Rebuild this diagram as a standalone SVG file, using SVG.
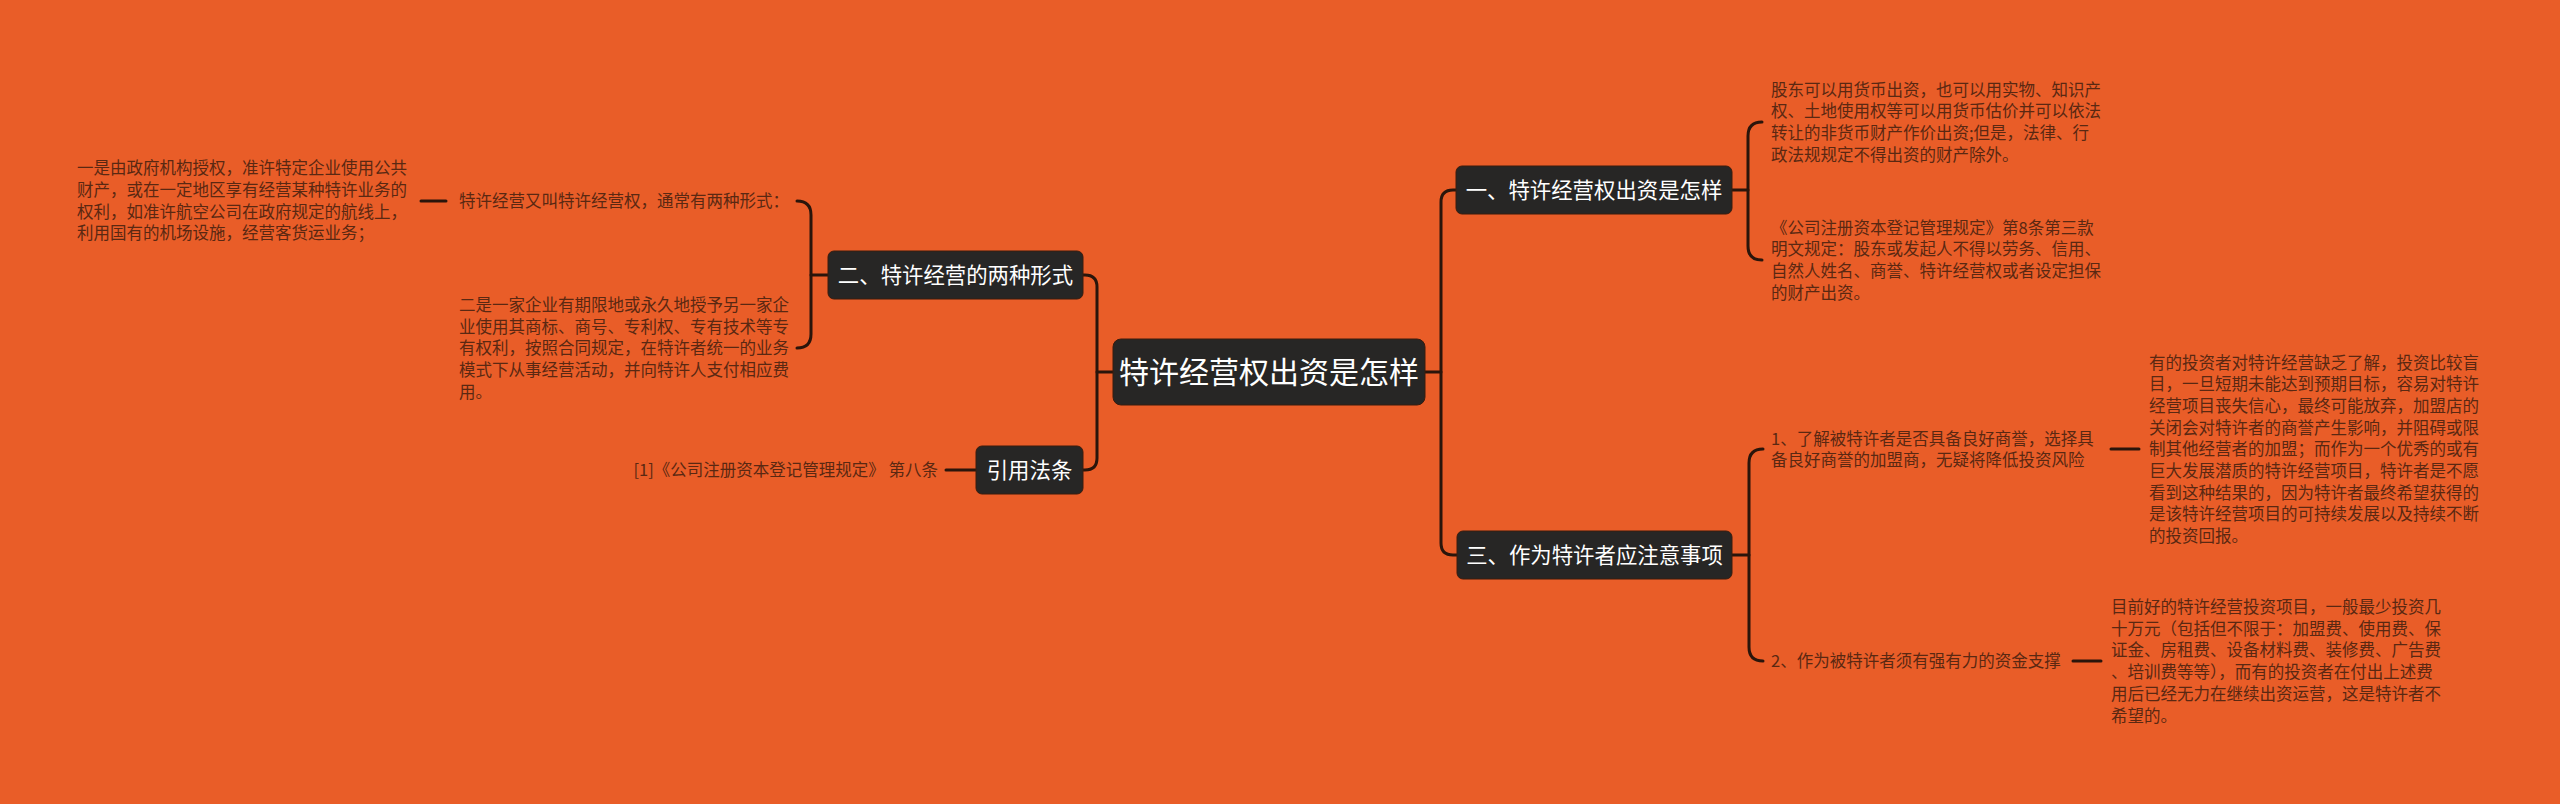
<svg xmlns="http://www.w3.org/2000/svg" width="2560" height="804" viewBox="0 0 2560 804">
<style>
.bg{fill:#E95D28}
.box{fill:#272625;stroke:#3a1c0e;stroke-width:1}
.t{font-family:"Noto Sans CJK SC","Noto Sans",sans-serif;fill:#ffffff}
.root{font-size:30px}
.br{font-size:21.4px}
.leaf{font-family:"Noto Sans CJK SC","Noto Sans",sans-serif;font-size:16.5px;fill:#5a2812}
.c{fill:none;stroke:#2a150b;stroke-width:3;stroke-linecap:round;stroke-linejoin:round}
</style>
<rect class="bg" x="0" y="0" width="2560" height="804"/>
<g id="connectors">
<path class="c" d="M1113,372 H1097"/>
<path class="c" d="M1083,275 H1085 Q1097,275 1097,287 V458 Q1097,470 1085,470 H1083"/>
<path class="c" d="M1425,372 H1441"/>
<path class="c" d="M1456,190 H1453 Q1441,190 1441,202 V543 Q1441,555 1453,555 H1457"/>
<path class="c" d="M828,275 H811"/>
<path class="c" d="M797,201 Q811,201 811,215 V334 Q811,348 797,348"/>
<path class="c" d="M446,201 H421"/>
<path class="c" d="M976,470 H946"/>
<path class="c" d="M1732,190 H1748"/>
<path class="c" d="M1762,122 Q1748,122 1748,136 V246 Q1748,260 1762,260"/>
<path class="c" d="M1732,555 H1749"/>
<path class="c" d="M1763,449 Q1749,449 1749,463 V647 Q1749,661 1763,661"/>
<path class="c" d="M2111,449 H2139"/>
<path class="c" d="M2073,661 H2101"/>
</g>
<g id="root">
<rect class="box" x="1113" y="339" width="312" height="66" rx="8"/>
<text class="t root" x="1269" y="383" text-anchor="middle">特许经营权出资是怎样</text>
</g>
<g id="n2">
<rect class="box" x="828" y="251" width="255" height="48" rx="6"/>
<text class="t br" x="955.5" y="283" text-anchor="middle">二、特许经营的两种形式</text>
</g>
<g id="n2a">
<text class="leaf" x="459" y="207">特许经营又叫特许经营权，通常有两种形式：</text>
</g>
<g id="n2a1">
<text class="leaf"><tspan x="77" y="174.3">一是由政府机构授权，准许特定企业使用公共</tspan><tspan x="77" y="196">财产，或在一定地区享有经营某种特许业务的</tspan><tspan x="77" y="217.7">权利，如准许航空公司在政府规定的航线上，</tspan><tspan x="77" y="239.4">利用国有的机场设施，经营客货运业务；</tspan></text>
</g>
<g id="n2b">
<text class="leaf"><tspan x="459" y="310.9">二是一家企业有期限地或永久地授予另一家企</tspan><tspan x="459" y="332.6">业使用其商标、商号、专利权、专有技术等专</tspan><tspan x="459" y="354.3">有权利，按照合同规定，在特许者统一的业务</tspan><tspan x="459" y="376">模式下从事经营活动，并向特许人支付相应费</tspan><tspan x="459" y="397.7">用。</tspan></text>
</g>
<g id="ref">
<rect class="box" x="976" y="446" width="107" height="48" rx="6"/>
<text class="t br" x="1029.5" y="478" text-anchor="middle">引用法条</text>
</g>
<g id="ref1">
<text class="leaf" x="938" y="476.3" text-anchor="end">[1]《公司注册资本登记管理规定》 第八条</text>
</g>
<g id="n1">
<rect class="box" x="1456" y="166" width="276" height="48" rx="6"/>
<text class="t br" x="1594" y="198" text-anchor="middle">一、特许经营权出资是怎样</text>
</g>
<g id="n1a">
<text class="leaf"><tspan x="1771" y="95.7">股东可以用货币出资，也可以用实物、知识产</tspan><tspan x="1771" y="117.4">权、土地使用权等可以用货币估价并可以依法</tspan><tspan x="1771" y="139.1">转让的非货币财产作价出资;但是，法律、行</tspan><tspan x="1771" y="160.8">政法规规定不得出资的财产除外。</tspan></text>
</g>
<g id="n1b">
<text class="leaf"><tspan x="1771" y="233.7">《公司注册资本登记管理规定》第8条第三款</tspan><tspan x="1771" y="255.4">明文规定：股东或发起人不得以劳务、信用、</tspan><tspan x="1771" y="277.1">自然人姓名、商誉、特许经营权或者设定担保</tspan><tspan x="1771" y="298.8">的财产出资。</tspan></text>
</g>
<g id="n3">
<rect class="box" x="1457" y="531" width="275" height="48" rx="6"/>
<text class="t br" x="1594.5" y="563" text-anchor="middle">三、作为特许者应注意事项</text>
</g>
<g id="n3a">
<text class="leaf"><tspan x="1771" y="444.5">1、了解被特许者是否具备良好商誉，选择具</tspan><tspan x="1771" y="466.2">备良好商誉的加盟商，无疑将降低投资风险</tspan></text>
</g>
<g id="n3a1">
<text class="leaf"><tspan x="2149" y="368.5">有的投资者对特许经营缺乏了解，投资比较盲</tspan><tspan x="2149" y="390.2">目，一旦短期未能达到预期目标，容易对特许</tspan><tspan x="2149" y="411.9">经营项目丧失信心，最终可能放弃，加盟店的</tspan><tspan x="2149" y="433.6">关闭会对特许者的商誉产生影响，并阻碍或限</tspan><tspan x="2149" y="455.3">制其他经营者的加盟；而作为一个优秀的或有</tspan><tspan x="2149" y="477">巨大发展潜质的特许经营项目，特许者是不愿</tspan><tspan x="2149" y="498.7">看到这种结果的，因为特许者最终希望获得的</tspan><tspan x="2149" y="520.4">是该特许经营项目的可持续发展以及持续不断</tspan><tspan x="2149" y="542.1">的投资回报。</tspan></text>
</g>
<g id="n3b">
<text class="leaf" x="1771" y="667.3">2、作为被特许者须有强有力的资金支撑</text>
</g>
<g id="n3b1">
<text class="leaf"><tspan x="2111" y="613">目前好的特许经营投资项目，一般最少投资几</tspan><tspan x="2111" y="634.7">十万元（包括但不限于：加盟费、使用费、保</tspan><tspan x="2111" y="656.4">证金、房租费、设备材料费、装修费、广告费</tspan><tspan x="2111" y="678.1">、培训费等等），而有的投资者在付出上述费</tspan><tspan x="2111" y="699.8">用后已经无力在继续出资运营，这是特许者不</tspan><tspan x="2111" y="721.5">希望的。</tspan></text>
</g>
</svg>
